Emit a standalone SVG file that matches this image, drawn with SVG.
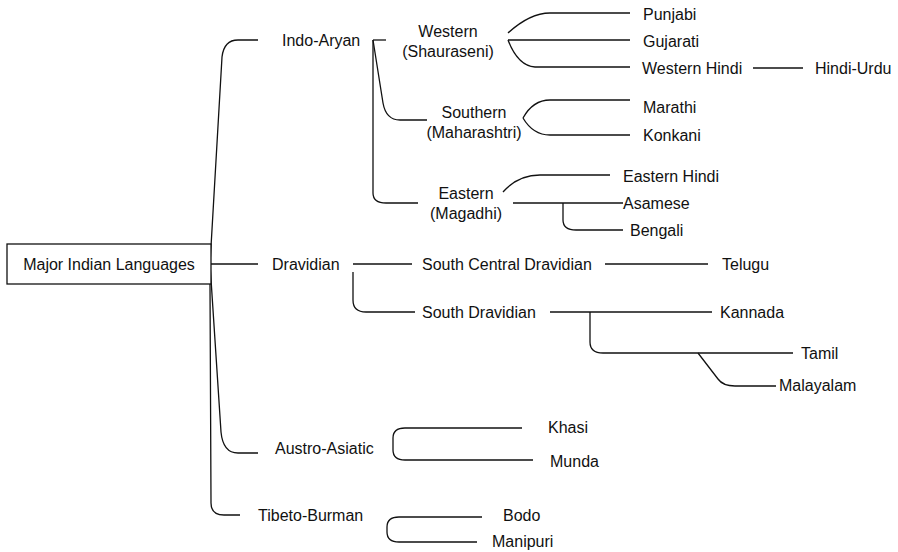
<svg xmlns="http://www.w3.org/2000/svg" width="898" height="552" viewBox="0 0 898 552">
<style>
text{font-family:"Liberation Sans",Arial,sans-serif;font-size:16px;fill:#111;dominant-baseline:central}
.c path{fill:none;stroke:#111;stroke-width:1.3}
.box{fill:#fff;stroke:#111;stroke-width:1.3}
</style>
<rect width="898" height="552" fill="#fff"/>
<g class="c" id="connectors">
<path d="M210,264 L222,57 Q224,40 238,40 L258,40"/>
<path d="M211,264 L258,264"/>
<path d="M210,264 L221,432 Q223,453 238,453 L258,453"/>
<path d="M210,284 L211,503 Q211,515 224,515 L240,515"/>
<path d="M373,40 L386,40"/>
<path d="M373,40 L383,103 Q386,120 400,120 L427,120"/>
<path d="M373,40 L373,193 Q373,203 386,203 L418,203"/>
<path d="M508,33 Q530,13 550,13 L630,13"/>
<path d="M508,40 L630,40"/>
<path d="M508,40 Q518,66 535,67 L630,67"/>
<path d="M753,68 L803,68"/>
<path d="M523,118 Q533,100 550,100 L630,100"/>
<path d="M523,118 Q533,135 550,135 L630,135"/>
<path d="M503,192 Q518,175 540,175 L610,175"/>
<path d="M513,203 L623,203"/>
<path d="M563,203 L563,220 Q563,230 576,230 L623,230"/>
<path d="M353,264 L412,264"/>
<path d="M353,272 L353,300 Q353,312 366,312 L415,312"/>
<path d="M605,264 L708,264"/>
<path d="M550,312 L712,312"/>
<path d="M590,312 L590,342 Q590,353 603,353 L793,353"/>
<path d="M698,353 L718,379 Q723,386 735,386 L776,386"/>
<path d="M405,428 Q393,428 393,438 L393,450 Q393,460 405,460 L533,460"/>
<path d="M405,428 L522,428"/>
<path d="M399,517 Q387,517 387,527 L387,532 Q387,542 399,542 L477,542"/>
<path d="M399,517 L482,517"/>
</g>
<g id="root"><rect class="box" x="7" y="244" width="204" height="40"/><text x="109" y="264" text-anchor="middle">Major Indian Languages</text></g>
<g id="indo-aryan"><text x="282" y="40">Indo-Aryan</text></g>
<g id="western"><text x="448" y="31" text-anchor="middle">Western</text><text x="448" y="51" text-anchor="middle">(Shauraseni)</text></g>
<g id="southern"><text x="474" y="112" text-anchor="middle">Southern</text><text x="474" y="132" text-anchor="middle">(Maharashtri)</text></g>
<g id="eastern"><text x="466" y="193" text-anchor="middle">Eastern</text><text x="466" y="213" text-anchor="middle">(Magadhi)</text></g>
<g id="punjabi"><text x="643" y="14">Punjabi</text></g>
<g id="gujarati"><text x="643" y="41">Gujarati</text></g>
<g id="western-hindi"><text x="642" y="68">Western Hindi</text></g>
<g id="hindi-urdu"><text x="815" y="68">Hindi-Urdu</text></g>
<g id="marathi"><text x="643" y="107">Marathi</text></g>
<g id="konkani"><text x="643" y="135">Konkani</text></g>
<g id="eastern-hindi"><text x="623" y="176">Eastern Hindi</text></g>
<g id="asamese"><text x="623" y="203">Asamese</text></g>
<g id="bengali"><text x="630" y="230">Bengali</text></g>
<g id="dravidian"><text x="272" y="264">Dravidian</text></g>
<g id="south-central-dravidian"><text x="422" y="264">South Central Dravidian</text></g>
<g id="telugu"><text x="722" y="264">Telugu</text></g>
<g id="south-dravidian"><text x="422" y="312">South Dravidian</text></g>
<g id="kannada"><text x="720" y="312">Kannada</text></g>
<g id="tamil"><text x="801" y="353">Tamil</text></g>
<g id="malayalam"><text x="779" y="385">Malayalam</text></g>
<g id="austro-asiatic"><text x="275" y="448">Austro-Asiatic</text></g>
<g id="khasi"><text x="548" y="427">Khasi</text></g>
<g id="munda"><text x="550" y="461">Munda</text></g>
<g id="tibeto-burman"><text x="258" y="515">Tibeto-Burman</text></g>
<g id="bodo"><text x="503" y="515">Bodo</text></g>
<g id="manipuri"><text x="492" y="541">Manipuri</text></g>
</svg>
